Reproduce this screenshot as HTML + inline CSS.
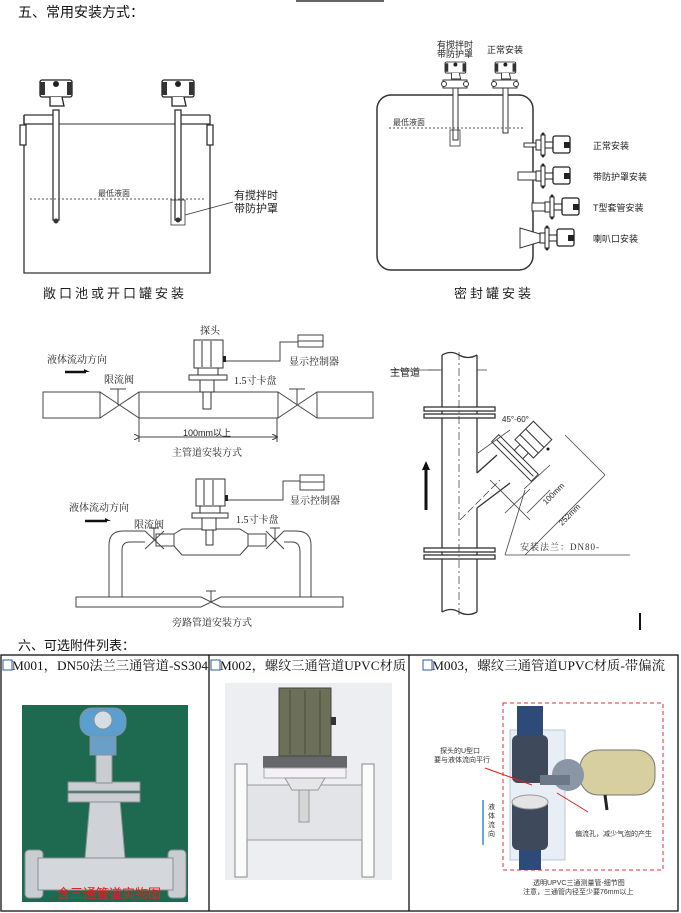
<!DOCTYPE html>
<html><head><meta charset="utf-8"><style>
html,body{margin:0;padding:0;background:#fff;}
svg{display:block;font-family:"Liberation Sans","Noto Sans CJK SC",sans-serif;}
.s{font-family:"Liberation Serif","Noto Serif CJK SC","Noto Sans CJK SC",serif;}
</style></head><body>
<svg width="681" height="913" viewBox="0 0 681 913" xmlns="http://www.w3.org/2000/svg">
<defs>
<g id="tx">
<rect x="0" y="0" width="32" height="17" rx="2" fill="#fff" stroke="#222" stroke-width="1.3"/>
<rect x="0" y="2" width="5" height="13" fill="#333"/><rect x="27" y="2" width="5" height="13" fill="#333"/>
<circle cx="16" cy="4" r="3" fill="#222"/>
<path d="M10 17 L10 26 L24 26 L22 17" fill="#fff" stroke="#222" stroke-width="1.3"/>
</g>
<g id="sh">
<rect x="0" y="-5" width="6" height="10" fill="#fff" stroke="#222"/>
<rect x="5" y="-10" width="4" height="20" fill="#fff" stroke="#222"/>
<circle cx="7" cy="-11" r="1.5" fill="#222"/><circle cx="7" cy="11" r="1.5" fill="#222"/>
<rect x="9" y="-3" width="8" height="6" fill="#fff" stroke="#222"/>
<rect x="17" y="-9" width="17" height="17" rx="2" fill="#fff" stroke="#222" stroke-width="1.3"/>
<rect x="28" y="-3" width="6" height="6" fill="#222"/>
</g>
<marker id="ar" markerWidth="6" markerHeight="6" refX="5" refY="3" orient="auto"><path d="M0 0 L6 3 L0 6" fill="none" stroke="#333"/></marker>
</defs>

<rect x="296" y="0" width="88" height="2" fill="#666"/>
<text x="18" y="17" font-size="14" fill="#111">五、常用安装方式：</text>

<!-- LEFT TANK -->
<g stroke="#333" fill="none" stroke-width="1.3">
<path d="M24 115 L24 273 L210 273 L210 115"/>
<path d="M24 115 L56 115 M24 124 L56 124 M24 115 L24 124"/>
<path d="M176 115 L210 115 M176 124 L210 124"/>
<line x1="56" y1="124" x2="176" y2="124" stroke-width="1"/>
<rect x="20" y="125" width="6" height="20" fill="#fff"/><rect x="207" y="125" width="6" height="20" fill="#fff"/>
<rect x="53" y="110" width="6" height="110" fill="#fff"/>
<rect x="175" y="110" width="6" height="110" fill="#fff"/>
<rect x="171" y="200" width="14" height="25" stroke-width="0.8"/>
<line x1="185" y1="215" x2="233" y2="202" stroke-width="0.8"/>
</g>
<use href="#tx" x="40" y="80"/><use href="#tx" x="162" y="80"/>
<circle cx="56" cy="221" r="2.5" fill="#333"/><circle cx="178" cy="220" r="2.5" fill="#333"/>
<line x1="30" y1="199" x2="204" y2="199" stroke="#555" stroke-dasharray="2,2"/>
<text x="98" y="196" font-size="8" fill="#333">最低液面</text>
<text x="234" y="199" font-size="11" fill="#222">有搅拌时</text>
<text x="234" y="212" font-size="11" fill="#222">带防护罩</text>
<text x="43" y="298" font-size="13" fill="#222" letter-spacing="3">敞口池或开口罐安装</text>

<!-- RIGHT TANK -->
<rect x="377" y="95" width="156" height="175" rx="14" fill="none" stroke="#333" stroke-width="1.5"/>
<g stroke="#333" fill="#fff">
<rect x="443" y="80" width="24" height="8"/><rect x="493" y="80" width="24" height="8"/>
<circle cx="444" cy="84" r="2.5"/><circle cx="466" cy="84" r="2.5"/><circle cx="494" cy="84" r="2.5"/><circle cx="516" cy="84" r="2.5"/>
<rect x="453" y="88" width="5" height="52"/><rect x="503" y="88" width="5" height="45"/>
<rect x="450" y="130" width="10" height="16" fill="none" stroke-width="0.8"/>
</g>
<g transform="translate(445 62) scale(0.65)"><use href="#tx"/></g>
<g transform="translate(495 62) scale(0.65)"><use href="#tx"/></g>
<line x1="389" y1="128" x2="524" y2="128" stroke="#555" stroke-dasharray="2,2"/>
<text x="393" y="125" font-size="8" fill="#333">最低液面</text>
<text x="437" y="48" font-size="9" fill="#222">有搅拌时</text>
<text x="437" y="57" font-size="9" fill="#222">带防护罩</text>
<text x="487" y="53" font-size="9" fill="#222">正常安装</text>
<g stroke="#333" fill="#fff">
<rect x="524" y="143" width="14" height="4"/>
<rect x="518" y="172" width="20" height="8"/>
<rect x="532" y="203" width="14" height="8"/>
<path d="M520 228 L540 234 L540 242 L520 248 Z"/>
</g>
<use href="#sh" x="536" y="145"/><use href="#sh" x="536" y="176"/>
<use href="#sh" x="545" y="207"/><use href="#sh" x="540" y="238"/>
<text x="593" y="149" font-size="9" fill="#222">正常安装</text>
<text x="593" y="180" font-size="9" fill="#222">带防护罩安装</text>
<text x="593" y="211" font-size="9" fill="#222">T型套管安装</text>
<text x="593" y="242" font-size="9" fill="#222">喇叭口安装</text>
<text x="454" y="298" font-size="13" fill="#222" letter-spacing="3">密封罐安装</text>

<!-- MAIN PIPE INSTALL -->
<g stroke="#444" fill="none" stroke-width="1">
<rect x="43" y="392" width="57" height="26"/>
<path d="M100 392 L139 418 M100 418 L139 392"/>
<rect x="139" y="392" width="139" height="26"/>
<path d="M278 392 L317 418 M278 418 L317 392"/>
<rect x="317" y="392" width="56" height="26"/>
<path d="M118 405 L118 389 M110 389 L126 389 M297 405 L297 389 M289 389 L305 389"/>
<path d="M224 361 L280 361 L280 342 L298 342"/>
<rect x="298" y="335" width="25" height="12"/><line x1="298" y1="341" x2="323" y2="341"/>
<line x1="139" y1="437" x2="277" y2="437" marker-end="url(#ar)" marker-start="url(#ar)"/>
<path d="M139 418 L139 442 M277 418 L277 442"/>
</g>
<g stroke="#333" fill="#fff">
<rect x="194" y="340" width="29" height="28"/>
<line x1="202" y1="341" x2="202" y2="367"/><line x1="211" y1="341" x2="211" y2="367"/>
<rect x="198" y="368" width="20" height="7"/>
<rect x="189" y="375" width="38" height="5"/>
<rect x="200" y="380" width="14" height="12"/>
<rect x="203" y="392" width="8" height="17"/>
</g>
<rect x="223" y="356" width="3" height="6" fill="#222"/>
<text x="200" y="334" class="s" font-size="10" fill="#222">探头</text>
<text x="289" y="365" class="s" font-size="10" fill="#222">显示控制器</text>
<text x="47" y="363" class="s" font-size="10" fill="#222">液体流动方向</text>
<path d="M65 372 L86 372" stroke="#111" stroke-width="2.5"/><path d="M84 369 L90 372 L84 372Z" fill="#111"/>
<text x="104" y="383" class="s" font-size="10" fill="#222">限流阀</text>
<text x="234" y="384" class="s" font-size="10" fill="#222">1.5寸卡盘</text>
<text x="183" y="436" font-size="9" fill="#222">100mm以上</text>
<text x="172" y="456" class="s" font-size="10" fill="#222">主管道安装方式</text>

<!-- BYPASS -->
<g stroke="#444" fill="none" stroke-width="1">
<path d="M109 597 L109 545 Q109 531 123 531 L145 531 M122 597 L122 550 Q122 542 130 542 L145 542"/>
<path d="M145 531 L164 549 M145 549 L164 531 M154 540 L154 528 M149 528 L159 528"/>
<rect x="156" y="534" width="18" height="12"/>
<path d="M174 534 L182 529 L240 529 L248 534 L248 546 L240 555 L182 555 L174 546Z"/>
<rect x="248" y="534" width="18" height="12"/>
<path d="M266 531 L284 549 M266 549 L284 531 M275 540 L275 528 M270 528 L280 528"/>
<path d="M284 531 L296 531 Q311 531 311 545 L311 597 M284 542 L292 542 Q300 542 300 552 L300 597"/>
<path d="M76 597 L201 597 L211 602 L221 597 L343 597 L343 607 L221 607 L211 602 L201 607 L76 607 Z"/>
<path d="M211 602 L211 591 M206 591 L216 591"/>
<path d="M226 500 L283 500 L283 481 L300 481"/>
<rect x="300" y="475" width="24" height="15"/><line x1="300" y1="482" x2="324" y2="482"/>
</g>
<g stroke="#333" fill="#fff">
<rect x="196" y="479" width="29" height="27"/>
<line x1="204" y1="480" x2="204" y2="505"/><line x1="213" y1="480" x2="213" y2="505"/>
<rect x="200" y="506" width="20" height="7"/>
<rect x="192" y="513" width="36" height="5"/>
<rect x="202" y="518" width="14" height="12"/>
<rect x="206" y="530" width="7" height="15"/>
</g>
<rect x="225" y="495" width="3" height="6" fill="#222"/>
<text x="290" y="504" class="s" font-size="10" fill="#222">显示控制器</text>
<text x="69" y="511" class="s" font-size="10" fill="#222">液体流动方向</text>
<path d="M85 521 L107 521" stroke="#111" stroke-width="2.5"/><path d="M105 518 L111 521 L105 521Z" fill="#111"/>
<text x="134" y="528" class="s" font-size="10" fill="#222">限流阀</text>
<text x="236" y="523" class="s" font-size="10" fill="#222">1.5寸卡盘</text>
<text x="172" y="626" class="s" font-size="10" fill="#222">旁路管道安装方式</text>

<!-- VERTICAL PIPE -->
<g stroke="#333" fill="none" stroke-width="1.3">
<path d="M442 355 L442 612 M477 355 L477 473 M477 508 L477 612"/>
<path d="M442 355 Q451 350 459 355 Q468 360 477 355"/>
<path d="M442 612 Q451 607 459 612 Q468 617 477 612"/>
<rect x="424" y="407" width="71" height="4" fill="#fff"/><rect x="424" y="414" width="71" height="4" fill="#fff"/>
<rect x="424" y="548" width="71" height="4" fill="#fff"/><rect x="424" y="555" width="71" height="4" fill="#fff"/>
<path d="M477 473 L497 455 M477 508 L510 483"/>
<line x1="459" y1="352" x2="459" y2="615" stroke-width="0.7" stroke-dasharray="8,3,2,3"/>
<line x1="460" y1="520" x2="500" y2="480" stroke-width="0.7" stroke-dasharray="8,3"/>
</g>
<g transform="translate(515 458) rotate(-45)" stroke="#333" fill="#fff">
<rect x="-5" y="-28" width="10" height="56"/><line x1="0" y1="-26" x2="0" y2="26"/>
<rect x="5" y="-6" width="8" height="12"/>
<rect x="13" y="-13" width="26" height="26"/>
<line x1="20" y1="-13" x2="20" y2="13"/><line x1="28" y1="-13" x2="28" y2="13"/>
</g>
<circle cx="548" cy="449" r="1.5" fill="#111"/>
<g stroke="#444" fill="none" stroke-width="0.8">
<path d="M478 453 Q500 437 510 430"/>
<path d="M524 489 L550 465 M505 513 L530 489 M565 435 L605 475 M525 555 L605 475"/>
<path d="M527 513 L550 490 M490 480 L530 520"/>
<path d="M428 370 L442 370 M477 370 L487 370"/>
<path d="M390 370 L440 370"/>
<path d="M505 555 L525 490 M505 555 L630 555"/>
</g>
<text x="390" y="376" font-size="10" fill="#222">主管道</text>
<text x="502" y="422" font-size="8" fill="#222">45°-60°</text>
<text x="0" y="0" font-size="8" fill="#222" transform="translate(546 505) rotate(-45)">100mm</text>
<text x="0" y="0" font-size="8" fill="#222" transform="translate(562 526) rotate(-45)">252mm</text>
<text x="520" y="550" class="s" font-size="9" fill="#333" letter-spacing="1">安装法兰：DN80-</text>
<path d="M426 510 L426 468" stroke="#111" stroke-width="3"/><path d="M422 470 L426 461 L430 470Z" fill="#111"/>
<rect x="639" y="613" width="2" height="17" fill="#111"/>

<!-- SECTION 6 -->
<text x="18" y="650" font-size="13" fill="#111">六、可选附件列表：</text>
<rect x="1" y="655" width="677" height="256" fill="none" stroke="#111" stroke-width="1.3"/>
<line x1="209" y1="655" x2="209" y2="911" stroke="#111" stroke-width="1.3"/>
<line x1="409" y1="655" x2="409" y2="911" stroke="#111" stroke-width="1.3"/>
<g class="s" font-size="13" fill="#111">
<rect x="3" y="660" width="9" height="10" fill="#fff" stroke="#3355aa"/>
<text x="12" y="670" textLength="196" lengthAdjust="spacingAndGlyphs">M001，DN50法兰三通管道-SS304</text>
<rect x="211" y="660" width="9" height="10" fill="#fff" stroke="#3355aa"/>
<text x="220" y="670" textLength="186" lengthAdjust="spacingAndGlyphs">M002，螺纹三通管道UPVC材质</text>
<rect x="423" y="660" width="9" height="10" fill="#fff" stroke="#3355aa"/>
<text x="432" y="670" textLength="233" lengthAdjust="spacingAndGlyphs">M003，螺纹三通管道UPVC材质-带偏流</text>
</g>

<rect x="22" y="705" width="166" height="197" fill="#1d6a50"/>
<g fill="#c9ccd0" stroke="#8a8f95">
<rect x="25" y="850" width="18" height="48" rx="4"/><rect x="168" y="850" width="18" height="48" rx="4"/>
<rect x="38" y="858" width="135" height="32" fill="#d4d7db"/>
<path d="M85 858 L90 800 L120 800 L125 858Z" fill="#cfd2d6"/>
<rect x="68" y="782" width="72" height="9"/><rect x="68" y="793" width="72" height="9"/>
<rect x="96" y="755" width="16" height="28"/>
<rect x="90" y="735" width="26" height="20" fill="#6aa0c8"/>
<rect x="80" y="708" width="46" height="28" rx="12" fill="#5b9ed0"/>
<circle cx="103" cy="720" r="9" fill="#d5dde5"/>
</g>
<text x="57" y="898" font-size="13" fill="#e02020">含三通管道实物图</text>

<rect x="225" y="683" width="167" height="197" fill="#eceef2"/>
<rect x="235" y="764" width="12" height="113" fill="#fbfbfb" stroke="#888"/>
<rect x="362" y="764" width="12" height="113" fill="#fbfbfb" stroke="#888"/>
<rect x="247" y="785" width="115" height="55" fill="#e2e4e8" stroke="#999"/>
<rect x="263" y="756" width="84" height="12" fill="#66676a"/>
<rect x="264" y="768" width="82" height="10" fill="#f4f0f6" stroke="#aaa"/>
<path d="M285 778 L325 778 L318 790 L292 790Z" fill="#e6e6e6" stroke="#999"/>
<rect x="299" y="790" width="10" height="32" fill="#d6d6d6" stroke="#999"/>
<rect x="279" y="688" width="52" height="68" fill="#6d7058" stroke="#444"/>
<line x1="290" y1="690" x2="290" y2="754" stroke="#4a4c3c"/><line x1="305" y1="690" x2="305" y2="754" stroke="#4a4c3c"/><line x1="320" y1="690" x2="320" y2="754" stroke="#4a4c3c"/>
<rect x="331" y="717" width="5" height="8" fill="#333"/>

<rect x="503" y="703" width="160" height="167" fill="none" stroke="#e03030" stroke-dasharray="4,3"/>
<rect x="510" y="730" width="55" height="130" fill="#e8eef5" stroke="#bcc8d5"/>
<rect x="517" y="706" width="26" height="30" fill="#2e4a78"/>
<rect x="512" y="735" width="36" height="48" rx="6" fill="#3e4a5c"/>
<rect x="512" y="800" width="36" height="50" rx="6" fill="#3e4a5c"/>
<ellipse cx="530" cy="802" rx="18" ry="7" fill="#e4e4e4" stroke="#999"/>
<rect x="519" y="850" width="22" height="20" fill="#2e4a78"/>
<rect x="580" y="750" width="75" height="45" rx="18" fill="#d8cfa0" stroke="#777"/>
<circle cx="568" cy="775" r="16" fill="#8a96a6"/>
<rect x="540" y="775" width="30" height="10" fill="#6c7888"/>
<line x1="605" y1="795" x2="607" y2="810" stroke="#222" stroke-width="3"/>
<line x1="485" y1="768" x2="532" y2="785" stroke="#e02020"/>
<line x1="557" y1="793" x2="588" y2="812" stroke="#e02020"/>
<text x="440" y="753" font-size="7" fill="#333">探头的U型口</text>
<text x="434" y="762" font-size="7" fill="#333">要与液体流向平行</text>
<path d="M483 800 L483 845" stroke="#6aa8e0" stroke-width="2"/>
<text x="488" y="809" font-size="7" fill="#333">液</text><text x="488" y="818" font-size="7" fill="#333">体</text><text x="488" y="827" font-size="7" fill="#333">流</text><text x="488" y="836" font-size="7" fill="#333">向</text>
<text x="575" y="836" font-size="7" fill="#333">偏流孔，减少气泡的产生</text>
<text x="533" y="885" font-size="7" fill="#333">透明UPVC三通测量管-细节图</text>
<text x="523" y="894" font-size="7" fill="#333">注意，三通管内径至少要76mm以上</text>
</svg>
</body></html>
